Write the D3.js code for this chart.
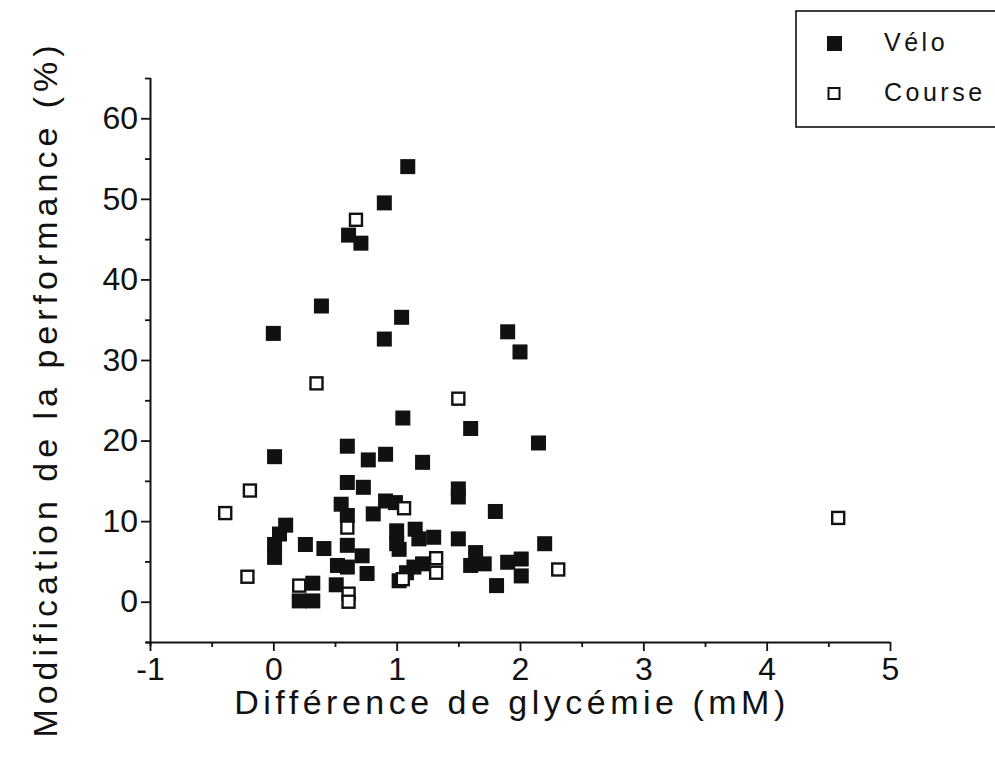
<!DOCTYPE html>
<html>
<head>
<meta charset="utf-8">
<script src="https://cdn.jsdelivr.net/npm/d3@7"></script>
<style>
  body { margin: 0; background: #fff; }
  svg { display: block; font-family: "Liberation Sans", Arial, sans-serif; }
</style>
</head>
<body>
<svg id="chart" width="995" height="770"></svg>
<script>
// valeurs : [différence de glycémie (mM), modification de la performance (%)]
var velo = [
  [1.09,54.0],[0.90,49.5],[0.61,45.5],[0.71,44.5],[0.39,36.7],[1.04,35.3],[0.00,33.3],
  [0.90,32.6],[1.90,33.5],[2.00,31.0],[1.05,22.8],[1.60,21.5],[2.15,19.7],[0.60,19.3],
  [0.01,18.0],[0.77,17.6],[0.91,18.3],[1.21,17.3],[0.60,14.8],[0.73,14.2],[1.50,14.0],
  [1.50,13.0],[0.91,12.5],[0.99,12.3],[0.55,12.1],[0.60,10.7],[0.81,10.9],[1.80,11.2],
  [0.10,9.5],[0.05,8.4],[0.01,7.1],[0.01,5.5],[0.26,7.1],[0.41,6.6],[0.60,7.0],
  [0.72,5.7],[0.52,4.5],[0.60,4.3],[0.76,3.5],[0.51,2.1],[0.32,2.3],[0.21,0.1],
  [0.32,0.1],[1.00,8.8],[1.00,7.2],[1.15,9.0],[1.18,7.8],[1.30,8.0],[1.02,6.5],
  [1.14,4.3],[1.21,4.7],[1.08,3.6],[1.02,2.6],[1.50,7.8],[1.64,6.1],[1.71,4.7],
  [1.60,4.5],[1.90,4.9],[2.01,5.3],[2.01,3.2],[1.81,2.0],[2.20,7.2]
];
var course = [
  [0.67,47.4],[0.35,27.1],[1.50,25.2],[-0.19,13.8],[-0.39,11.0],[0.60,9.2],[1.06,11.6],
  [-0.21,3.1],[0.21,2.0],[0.61,1.0],[0.61,0.0],[1.05,2.8],[1.32,5.4],[1.32,3.6],
  [2.31,4.0],[4.58,10.4]
];
var xTicks = [-1, 0, 1, 2, 3, 4, 5];
var xMinor = [-0.5, 0.5, 1.5, 2.5, 3.5, 4.5];
var yTicks = [0, 10, 20, 30, 40, 50, 60];
var yMinor = [-5, 5, 15, 25, 35, 45, 55, 65];
var seriesNames = ["Vélo", "Course"];

var svg = d3.select("#chart");
var x = d3.scaleLinear().domain([-1, 5]).range([150, 890]);
var y = d3.scaleLinear().domain([-5, 65]).range([642, 78]);
var plain = function(d) { return String(d); };

// axes
var gx = svg.append("g").attr("transform", "translate(0,642)")
  .call(d3.axisBottom(x).tickValues(xTicks).tickSize(9).tickPadding(6).tickFormat(plain));
svg.append("g").attr("transform", "translate(0,642)")
  .call(d3.axisBottom(x).tickValues(xMinor).tickSize(5).tickFormat(""))
  .select(".domain").remove();
var gy = svg.append("g").attr("transform", "translate(150,0)")
  .call(d3.axisLeft(y).tickValues(yTicks).tickSize(9).tickPadding(3).tickFormat(plain));
svg.append("g").attr("transform", "translate(150,0)")
  .call(d3.axisLeft(y).tickValues(yMinor).tickSize(5).tickFormat(""))
  .select(".domain").remove();

gx.select(".domain").attr("d", "M146,0.5H890").attr("stroke", "#111").attr("stroke-width", 2);
gy.select(".domain").attr("d", "M0.5,78V646").attr("stroke", "#111").attr("stroke-width", 2);
svg.selectAll(".tick line").attr("stroke", "#111").attr("stroke-width", 1.8);
svg.selectAll(".tick text")
  .attr("font-size", 32)
  .attr("font-family", "'Liberation Sans', Arial, sans-serif")
  .attr("fill", "#111");

// titres
svg.append("text")
  .attr("x", 512).attr("y", 714)
  .attr("text-anchor", "middle")
  .style("font-size", "34px").style("letter-spacing", "4.5px").style("fill", "#111")
  .text("Différence de glycémie (mM)");
svg.append("text")
  .attr("transform", "translate(57,389) rotate(-90)")
  .attr("text-anchor", "middle")
  .style("font-size", "34px").style("letter-spacing", "5px").style("fill", "#111")
  .text("Modification de la performance (%)");

// points
svg.append("g").selectAll("rect").data(velo).enter().append("rect")
  .attr("x", function(d) { return x(d[0]) - 7.5; })
  .attr("y", function(d) { return y(d[1]) - 7.5; })
  .attr("width", 15).attr("height", 15)
  .attr("fill", "#111");
svg.append("g").selectAll("rect").data(course).enter().append("rect")
  .attr("x", function(d) { return x(d[0]) - 6; })
  .attr("y", function(d) { return y(d[1]) - 6; })
  .attr("width", 12).attr("height", 12)
  .attr("fill", "#fff").attr("stroke", "#111").attr("stroke-width", 2.4);

// légende
var lg = svg.append("g");
lg.append("rect").attr("x", 796).attr("y", 11).attr("width", 260).attr("height", 116)
  .attr("fill", "#fff").attr("stroke", "#111").attr("stroke-width", 1.6);
lg.append("rect").attr("x", 827).attr("y", 36).attr("width", 15).attr("height", 15).attr("fill", "#111");
lg.append("rect").attr("x", 828.5).attr("y", 88).attr("width", 11).attr("height", 11)
  .attr("fill", "#fff").attr("stroke", "#111").attr("stroke-width", 2);
lg.selectAll("text").data(seriesNames).enter().append("text")
  .attr("x", 884)
  .attr("y", function(d, i) { return 51 + i * 50; })
  .style("font-size", "25px").style("letter-spacing", "3.5px").style("fill", "#111")
  .text(function(d) { return d; });
</script>
</body>
</html>
